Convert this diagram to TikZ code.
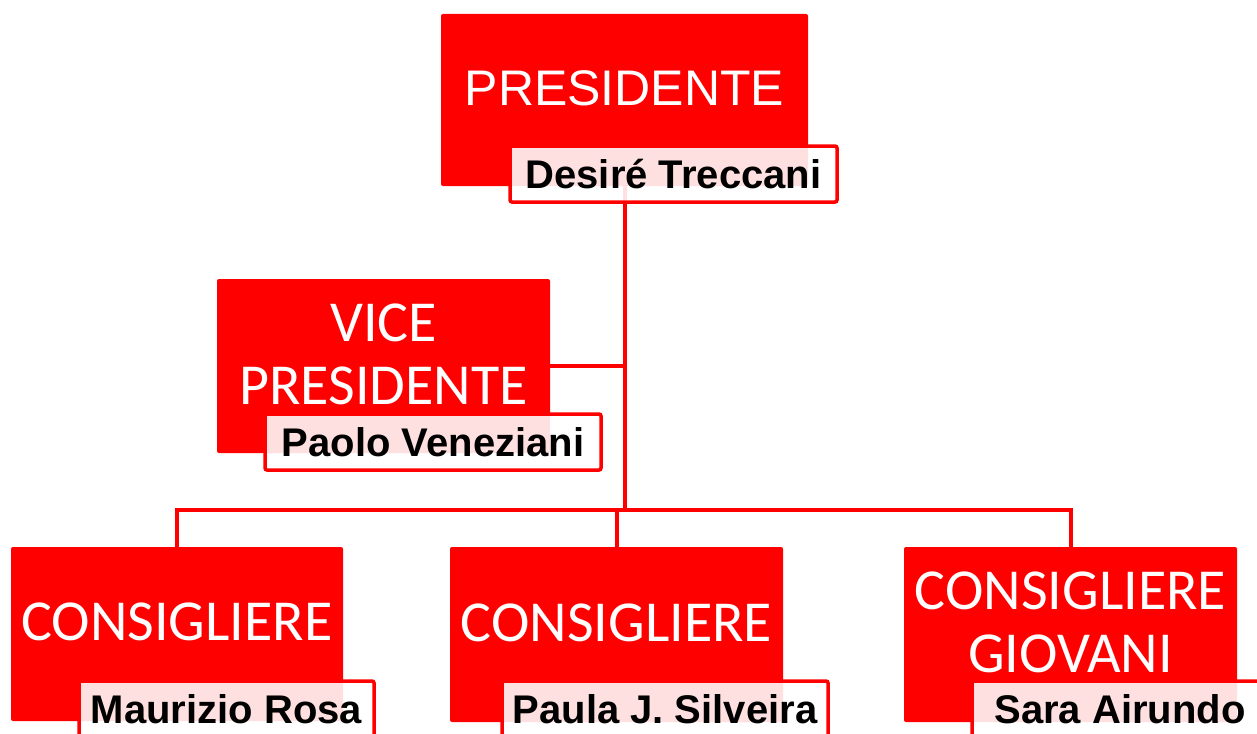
\documentclass[tikz,border=0pt]{standalone}
\usepackage{fontspec}
\usetikzlibrary{backgrounds}
\newfontfamily\capsfont{Carlito}
\newfontfamily\namefont{Liberation Sans}

\begin{document}
\begin{tikzpicture}[x=1pt, y=-1pt,
	office/.style = {fill=red, rounded corners=2pt, inner sep=0pt},
	title/.style = {text=white, align=center, inner sep=0pt, font=\capsfont\fontsize{58}{63}\selectfont},
	holder/.style = {draw=red, line width=3.5pt, fill=white, fill opacity=0.88, text opacity=1, rounded corners=2pt, minimum height=56pt, inner sep=0pt, font=\namefont\bfseries\fontsize{40}{46}\selectfont},
	link/.style = {draw=red, line width=4pt}]
	\useasboundingbox (0,0) rectangle (1257,733);
	\clip (0,0) rectangle (1257,733);
	% offices
	\node[office, minimum width=367pt, minimum height=172pt] (pres) at (624.5,100) {};
	\node[office, minimum width=333pt, minimum height=174pt] (vice) at (383.5,366) {};
	\node[office, minimum width=332pt, minimum height=174pt] (c1) at (177,634) {};
	\node[office, minimum width=333pt, minimum height=175pt] (c2) at (616.5,634.5) {};
	\node[office, minimum width=333pt, minimum height=175pt] (c3) at (1070.5,634.5) {};
	\node[title, font=\namefont\fontsize{50}{56}\selectfont] (pres-t) at ([yshift=12pt]pres.center) {PRESIDENTE};
	\node[title] (vice-t) at ([yshift=12pt]vice.center) {VICE\\PRESIDENTE};
	\node[title] (c1-t) at ([yshift=12pt]c1.center) {CONSIGLIERE};
	\node[title] (c2-t) at ([yshift=12pt]c2.center) {CONSIGLIERE};
	\node[title] (c3-t) at ([yshift=12pt]c3.center) {CONSIGLIERE\\GIOVANI};
	% names
	\node[holder, minimum width=327pt] (pres-n) at (673.5,174) {Desiré Treccani};
	\node[holder, minimum width=336pt] (vice-n) at (433,442) {Paolo Veneziani};
	\node[holder, minimum width=295pt] (c1-n) at (226.5,709) {Maurizio Rosa};
	\node[holder, minimum width=326pt] (c2-n) at (665,709) {Paula J. Silveira};
	\node[holder, minimum width=296pt] (c3-n) at (1120,709) {Sara Airundo};
	% lines
	\begin{scope}[on background layer]
		\coordinate (bus) at (624.5,510);
		\draw[link] (pres.south) -- (bus);
		\draw[link] (vice.east) -- (vice.east -| pres.south);
		\draw[link] (c1.north) |- (bus) -| (c3.north);
		\draw[link] (c2.north) -- (c2.north |- bus);
	\end{scope}
\end{tikzpicture}
\end{document}
